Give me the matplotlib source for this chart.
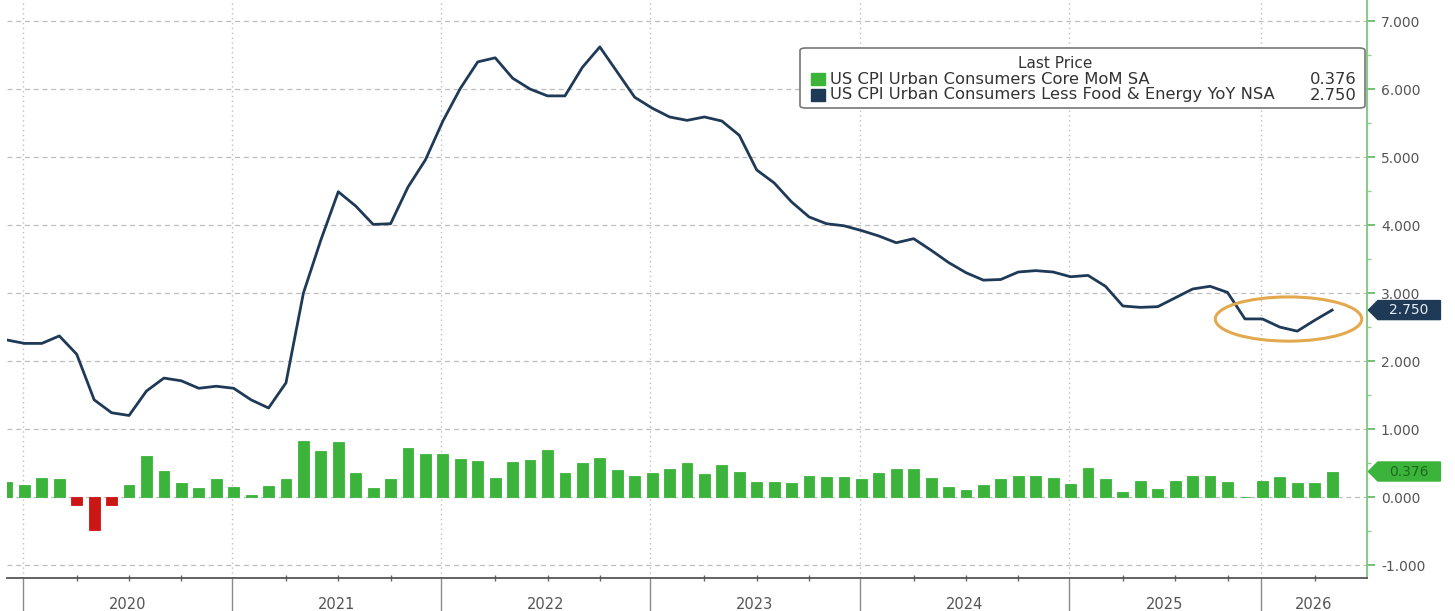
import matplotlib
matplotlib.use("Agg")
import matplotlib.pyplot as plt
import numpy as np
from matplotlib.patches import Ellipse, Polygon, FancyBboxPatch, Rectangle

# monthly readings, Nov 2019 .. early 2026 (one month missing in late 2025)
core_mom = [0.225, 0.185, 0.275, 0.26, -0.115, -0.485, -0.115, 0.175, 0.6, 0.39,
            0.2, 0.14, 0.26, 0.15, 0.025, 0.16, 0.26, 0.825, 0.685, 0.81,
            0.36, 0.135, 0.265, 0.725, 0.635, 0.635, 0.565, 0.535, 0.275, 0.515,
            0.55, 0.69, 0.355, 0.5, 0.575, 0.4, 0.31, 0.36, 0.415, 0.5,
            0.34, 0.465, 0.375, 0.225, 0.215, 0.2, 0.315, 0.3, 0.3, 0.26,
            0.36, 0.41, 0.41, 0.275, 0.15, 0.1, 0.175, 0.26, 0.315, 0.315,
            0.285, 0.195, 0.425, 0.26, 0.075, 0.235, 0.125, 0.24, 0.31, 0.31,
            0.225, None, 0.24, 0.29, 0.21, 0.21, 0.376]

core_yoy = [2.31, 2.26, 2.26, 2.37, 2.1, 1.43, 1.24, 1.2, 1.56, 1.75,
            1.71, 1.6, 1.63, 1.6, 1.43, 1.31, 1.68, 3.0, 3.78, 4.49,
            4.28, 4.01, 4.02, 4.56, 4.96, 5.53, 6.01, 6.4, 6.46, 6.16,
            6.0, 5.9, 5.9, 6.32, 6.62, 6.25, 5.88, 5.72, 5.59, 5.54,
            5.59, 5.53, 5.32, 4.81, 4.62, 4.34, 4.12, 4.02, 3.99, 3.92,
            3.84, 3.74, 3.8, 3.63, 3.45, 3.3, 3.19, 3.2, 3.31, 3.33,
            3.31, 3.24, 3.26, 3.1, 2.81, 2.79, 2.8, 2.93, 3.06, 3.1,
            3.01, 2.62, 2.62, 2.5, 2.44, 2.6, 2.75]

years = ["2020", "2021", "2022", "2023", "2024", "2025", "2026"]
year_starts = [1, 13, 25, 37, 49, 61, 72]   # observation index where each year begins

mom_label = "US CPI Urban Consumers Core MoM SA"
yoy_label = "US CPI Urban Consumers Less Food & Energy YoY NSA"
mom_last = "0.376"
yoy_last = "2.750"

green = "#3cb43c"
red = "#cc1616"
navy = "#1f3a57"
grid_c = "#bdbdbd"
text_c = "#555555"

fig = plt.figure(figsize=(14.55, 6.11), dpi=100)
ax = fig.add_axes([7 / 1455, 33 / 611, 1360 / 1455, 578 / 611])

x = np.arange(len(core_yoy))
mom = np.array([np.nan if v is None else v for v in core_mom])
bar_colors = [red if v < 0 else green for v in np.nan_to_num(mom)]
ax.bar(x, np.nan_to_num(mom), width=0.62, color=bar_colors, edgecolor=bar_colors,
       linewidth=0.6, zorder=3)
ax.plot(x, core_yoy, color=navy, lw=2.0, zorder=4)

ax.set_xlim(0, 78)
ax.set_ylim(-1.19, 7.31)

# right-hand value axis
ax.yaxis.tick_right()
ax.set_yticks(range(-1, 8))
ax.set_yticklabels(["%.3f" % v for v in range(-1, 8)])
ax.set_yticks(np.arange(-0.5, 7.5, 1.0), minor=True)
ax.tick_params(axis="y", which="major", colors="#5cb85c", length=6, width=1.2,
               labelsize=10, labelcolor=text_c, pad=4)
ax.tick_params(axis="y", which="minor", colors="#8fcf8f", length=3, width=1)

# time axis: year separators + quarter marks
bounds = [b - 0.1 for b in year_starts]
ax.set_xticks(bounds)
ax.set_xticklabels([])
quarters = [b + k for b in year_starts[:-1] for k in (3, 6, 9)] + [year_starts[-1] + 3]
ax.set_xticks(quarters, minor=True)
ax.tick_params(axis="x", which="major", length=24, width=1, color="#8a8a8a", direction="out")
ax.tick_params(axis="x", which="minor", length=4, width=1, color="#666666", direction="inout")

edges = bounds + [ax.get_xlim()[1]]
for i, yr in enumerate(years):
    mid = (edges[i] + edges[i + 1]) / 2
    ax.text(mid, -0.045, yr, transform=ax.get_xaxis_transform(), ha="center", va="center",
            fontsize=10.5, color=text_c)

for s in ["top", "left"]:
    ax.spines[s].set_visible(False)
ax.spines["right"].set_color("#7cc57c")
ax.spines["right"].set_linewidth(1.3)
ax.spines["bottom"].set_color("#555555")
ax.spines["bottom"].set_linewidth(1.3)

# grid
for v in range(-1, 8):
    ax.axhline(v, color=grid_c, lw=0.9, ls=(0, (4, 3)), zorder=1)
for b in bounds:
    ax.axvline(b, color=grid_c, lw=1.0, ls=(0, (1, 2.5)), zorder=1)

# circle around the latest readings
recent = np.array(core_yoy[-6:])
cx = (len(core_yoy) - 1) - 2.5
ell = Ellipse((cx, recent.mean() + 0.03), width=8.4, height=0.65, fill=False,
              ec="#e3a94e", lw=2.2, zorder=5)
ax.add_patch(ell)

# last-value tags on the right axis
tr = ax.get_yaxis_transform()


def value_tag(val, txt, fc, tc):
    h = 0.14
    pts = [(1.001, val), (1.008, val + h), (1.054, val + h), (1.054, val - h), (1.008, val - h)]
    ax.add_patch(Polygon(pts, closed=True, transform=tr, fc=fc, ec=fc, clip_on=False, zorder=6))
    ax.text(1.031, val, txt, transform=tr, ha="center", va="center", fontsize=10,
            color=tc, clip_on=False, zorder=7)


value_tag(core_yoy[-1], yoy_last, navy, "#e8eef5")
value_tag(core_mom[-1], mom_last, green, "#1b6a1b")

# legend box
fig.patches.append(FancyBboxPatch((800 / 1455, 1 - 108 / 611), 565 / 1455, 60 / 611,
                                  boxstyle="round,pad=0,rounding_size=0.004",
                                  transform=fig.transFigure, fc="white", ec="#777777",
                                  lw=1.2, zorder=8))
fig.text(1055 / 1455, 1 - 64 / 611, "Last Price", ha="center", va="center",
         fontsize=11, color="#333333", zorder=9)
rows = [(mom_label, mom_last, green), (yoy_label, yoy_last, navy)]
for k, (lab, val, col) in enumerate(rows):
    yy = 1 - (79 + 16 * k) / 611
    fig.patches.append(Rectangle((811 / 1455, yy - 6 / 611), 14 / 1455, 12 / 611,
                                 transform=fig.transFigure, fc=col, ec=col, zorder=9))
    fig.text(830 / 1455, yy, lab, ha="left", va="center", fontsize=11.8,
             color="#333333", zorder=9)
    fig.text(1357 / 1455, yy, val, ha="right", va="center", fontsize=11.8,
             color="#333333", zorder=9)

fig.savefig("out.png", dpi=100, facecolor="white")
